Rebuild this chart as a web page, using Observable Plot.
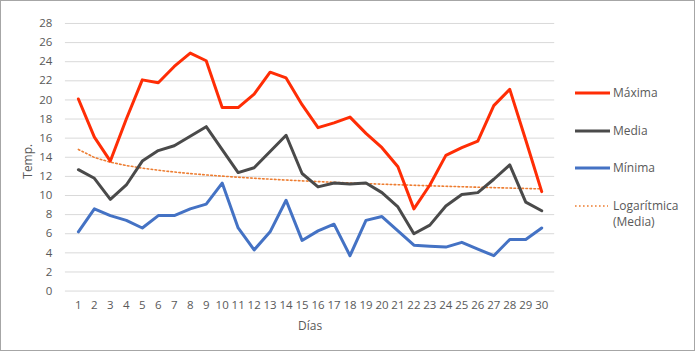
<!DOCTYPE html>
<html>
<head>
<meta charset="utf-8">
<script src="https://cdn.jsdelivr.net/npm/d3@7"></script>
<script src="https://cdn.jsdelivr.net/npm/@observablehq/plot@0.6"></script>
<style>
  html, body { margin: 0; padding: 0; background: #fff; }
  #wrap { position: relative; width: 695px; height: 351px; box-sizing: border-box; border: 1px solid #a6a6a6; overflow: hidden; }
  #chart { position: absolute; left: -1px; top: -1px; }
  #legend { position: absolute; left: -1px; top: -1px; }
  svg text { font-family: "Open Sans", "DejaVu Sans", sans-serif; }
</style>
</head>
<body>
<div id="wrap"><div id="chart"></div><svg id="legend" width="695" height="351"></svg></div>
<script>
const days = [1,2,3,4,5,6,7,8,9,10,11,12,13,14,15,16,17,18,19,20,21,22,23,24,25,26,27,28,29,30];
const maxima = [20.1,16.1,13.6,18.0,22.1,21.8,23.5,24.9,24.1,19.2,19.2,20.6,22.9,22.3,19.5,17.1,17.6,18.2,16.5,15.0,13.0,8.6,11.1,14.2,15.0,15.7,19.4,21.1,15.8,10.4];
const media  = [12.7,11.8,9.6,11.1,13.6,14.7,15.2,16.2,17.2,14.8,12.4,12.9,14.6,16.3,12.3,10.9,11.3,11.2,11.3,10.3,8.8,6.0,6.9,8.9,10.1,10.3,11.7,13.2,9.3,8.4];
const minima = [6.2,8.6,7.9,7.4,6.6,7.9,7.9,8.6,9.1,11.3,6.6,4.3,6.2,9.5,5.3,6.3,7.0,3.7,7.4,7.8,6.3,4.8,4.7,4.6,5.1,4.4,3.7,5.4,5.4,6.6];
const seriesNames = ["Máxima","Media","Mínima"];
const trendName = ["Logarítmica","(Media)"];
const yTicks = [0,2,4,6,8,10,12,14,16,18,20,22,24,26,28];
const colors = {"Máxima":"#ff2d05","Media":"#4a4a4a","Mínima":"#4472c4"};
const trendColor = "#ed7d31";

const seriesValues = {"Máxima": maxima, "Media": media, "Mínima": minima};
const rows = [];
for (const name of seriesNames) days.forEach((d,i) => rows.push({name, day: d, value: seriesValues[name][i]}));

// logarithmic least-squares fit of Media (as Excel's trendline)
const lx = days.map(d => Math.log(d));
const mx = d3.mean(lx), my = d3.mean(media);
const slope = d3.sum(lx.map((v,i) => (v-mx)*(media[i]-my))) / d3.sum(lx.map(v => (v-mx)**2));
const intercept = my - slope*mx;
const trend = days.map((d,i) => ({day: d, value: intercept + slope*lx[i]}));

const chart = Plot.plot({
  width: 695, height: 351,
  marginLeft: 65, marginRight: 140, marginTop: 23, marginBottom: 60,
  style: {fontFamily: '"Open Sans", sans-serif', fontSize: "11.5px", color: "#595959", background: "transparent"},
  x: {type: "point", domain: days, padding: 0.5, label: null},
  y: {domain: [0,28], label: null},
  marks: [
    Plot.ruleY(yTicks, {stroke: "#d9d9d9", strokeWidth: 1}),
    Plot.axisY({ticks: yTicks, tickSize: 0, tickPadding: 13, fill: "#595959", label: null}),
    Plot.axisX({tickSize: 0, tickPadding: 10, fill: "#595959", label: null}),
    Plot.text(["Temp."], {frameAnchor: "left", textAnchor: "middle", dx: -37, dy: 4, rotate: -90, fill: "#595959", fontSize: 12}),
    Plot.text(["Días"], {frameAnchor: "bottom", dy: 39, fill: "#595959", fontSize: 12}),
    Plot.line(trend, {x: "day", y: "value", stroke: trendColor, strokeWidth: 1.6, strokeDasharray: "1.6 2.4", curve: "linear"}),
    Plot.line(rows, {x: "day", y: "value", z: "name", stroke: d => colors[d.name], strokeWidth: 3, strokeLinejoin: "round", strokeLinecap: "round"})
  ]
});
document.getElementById("chart").appendChild(chart);

// legend
const lg = d3.select("#legend");
const legendY = [93, 131, 168];
seriesNames.forEach((name, i) => {
  lg.append("line").attr("x1", 575).attr("x2", 610).attr("y1", legendY[i]).attr("y2", legendY[i])
    .attr("stroke", colors[name]).attr("stroke-width", 3);
  lg.append("text").attr("x", 613).attr("y", legendY[i]).attr("dy", "0.35em")
    .attr("fill", "#595959").attr("font-size", 12).text(name);
});
lg.append("line").attr("x1", 575).attr("x2", 608).attr("y1", 206).attr("y2", 206)
  .attr("stroke", trendColor).attr("stroke-width", 1.6).attr("stroke-dasharray", "1.6 2.4");
trendName.forEach((t, i) => {
  lg.append("text").attr("x", 613).attr("y", 206 + i*16).attr("dy", "0.35em")
    .attr("fill", "#595959").attr("font-size", 12).text(t);
});
</script>
</body>
</html>
